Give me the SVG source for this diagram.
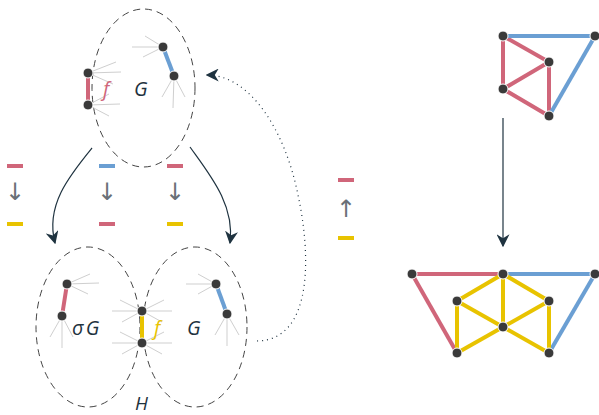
<svg xmlns="http://www.w3.org/2000/svg" width="599" height="415" viewBox="0 0 599 415">
<defs>
<style>
.ell{fill:none;stroke:#444;stroke-width:1;stroke-dasharray:7 5}
.nd{fill:#3a3a3a;stroke:#fff;stroke-width:1}
.sp{stroke:#cfcfcf;stroke-width:1;fill:none}
.r{stroke:#d0667a;stroke-width:4;stroke-linecap:butt}
.b{stroke:#6b9fd3;stroke-width:4}
.y{stroke:#e8c300;stroke-width:4}
.lbl{font-family:"Open Sans","DejaVu Sans",sans-serif;font-style:italic;font-size:20px;fill:#1f3340}
.dash{stroke-width:4}
.arr{font-family:"DejaVu Sans",sans-serif;font-size:24px;fill:#6a7077}
.con{fill:none;stroke:#1f3340;stroke-width:1.2}
</style>
<marker id="ah" viewBox="0 0 10 10" refX="9" refY="5" markerWidth="13" markerHeight="13" markerUnits="userSpaceOnUse" orient="auto">
<path d="M0,0 L10,5 L0,10 L3,5 z" fill="#1f3340"/>
</marker>
</defs>

<g id="connectors">
<path class="con" d="M92,148 C70,175 45,205 55,243" marker-end="url(#ah)"/>
<path class="con" d="M190,147 C210,175 235,205 230,243" marker-end="url(#ah)"/>
<path class="con" d="M257,341 C315,340 310,250 298,195 C285,130 250,75 207,75" stroke-dasharray="1 4" marker-end="url(#ah)"/>
<path class="con" d="M503,118 L503,246" marker-end="url(#ah)"/>
</g>

<g id="top-G">
<ellipse class="ell" cx="143.5" cy="88" rx="51.5" ry="79"/>
<path class="sp" d="M88,73 L121,72 M88,73 L116,62 M88,73 L113,84 M88,105 L120,104 M88,105 L109,94 M88,105 L109,116 M163,47 L132,47 M163,47 L145,36 M163,47 L143,57 M174,76 L162,97 M174,76 L173,108 M174,76 L185,97"/>
<line class="r" x1="88" y1="73" x2="88" y2="105"/>
<line class="b" x1="163" y1="47" x2="174" y2="76"/>
<circle class="nd" cx="88" cy="73" r="5"/>
<circle class="nd" cx="88" cy="105" r="5"/>
<circle class="nd" cx="163" cy="47" r="5"/>
<circle class="nd" cx="174" cy="76" r="5"/>
<text class="lbl" x="103" y="96" style="fill:#d0667a">f</text>
<text class="lbl" x="134" y="96">G</text>
</g>

<g id="H">
<ellipse class="ell" cx="88" cy="327" rx="52" ry="80"/>
<ellipse class="ell" cx="195" cy="327" rx="52" ry="80"/>
<path class="sp" d="M67,284 L99,283 M67,284 L90,274 M67,284 L88,294 M62,316 L50,337 M62,316 L62,348 M62,316 L73,337 M142,311 L112,311 M142,311 L120,300 M142,311 L122,322 M142,311 L172,311 M142,311 L164,300 M142,311 L162,322 M142,343 L112,343 M142,343 L120,332 M142,343 L122,354 M142,343 L172,343 M142,343 L164,332 M142,343 L162,354 M216,284 L186,284 M216,284 L198,274 M216,284 L198,294 M227,314 L215,335 M227,314 L227,346 M227,314 L239,335"/>
<line class="r" x1="67" y1="284" x2="62" y2="316"/>
<line class="y" x1="142" y1="311" x2="142" y2="343"/>
<line class="b" x1="216" y1="284" x2="227" y2="314"/>
<circle class="nd" cx="67" cy="284" r="5"/>
<circle class="nd" cx="62" cy="316" r="5"/>
<circle class="nd" cx="142" cy="311" r="5"/>
<circle class="nd" cx="142" cy="343" r="5"/>
<circle class="nd" cx="216" cy="284" r="5"/>
<circle class="nd" cx="227" cy="314" r="5"/>
<text class="lbl" x="72" y="335">σ<tspan dx="2">G</tspan></text>
<text class="lbl" x="154" y="335" style="fill:#e8c300">f</text>
<text class="lbl" x="187" y="335">G</text>
<text class="lbl" x="135" y="410" style="font-size:19px">H</text>
</g>

<g id="legend">
<line class="dash r" x1="7" y1="166" x2="23" y2="166"/>
<text class="arr" x="15" y="200" text-anchor="middle">↓</text>
<line class="dash y" x1="7" y1="224" x2="23" y2="224"/>
<line class="dash b" x1="99" y1="166" x2="115" y2="166"/>
<text class="arr" x="107" y="200" text-anchor="middle">↓</text>
<line class="dash r" x1="99" y1="224" x2="115" y2="224"/>
<line class="dash r" x1="167" y1="166" x2="183" y2="166"/>
<text class="arr" x="175" y="200" text-anchor="middle">↓</text>
<line class="dash y" x1="167" y1="224" x2="183" y2="224"/>
<line class="dash r" x1="338" y1="180" x2="354" y2="180"/>
<text class="arr" x="346" y="217" text-anchor="middle">↑</text>
<line class="dash y" x1="338" y1="238" x2="354" y2="238"/>
</g>

<g id="graph-top">
<line class="r" x1="503" y1="36" x2="503" y2="89"/>
<line class="r" x1="503" y1="36" x2="549" y2="62"/>
<line class="r" x1="549" y1="62" x2="503" y2="89"/>
<line class="r" x1="503" y1="89" x2="549" y2="116"/>
<line class="r" x1="549" y1="62" x2="549" y2="116"/>
<line class="b" x1="503" y1="36" x2="595" y2="36"/>
<line class="b" x1="595" y1="36" x2="549" y2="116"/>
<circle class="nd" cx="503" cy="36" r="5"/>
<circle class="nd" cx="595" cy="36" r="5"/>
<circle class="nd" cx="549" cy="62" r="5"/>
<circle class="nd" cx="503" cy="89" r="5"/>
<circle class="nd" cx="549" cy="116" r="5"/>
</g>

<g id="graph-bottom">
<line class="r" x1="412" y1="274" x2="503" y2="274"/>
<line class="r" x1="412" y1="274" x2="457" y2="353"/>
<line class="b" x1="503" y1="274" x2="595" y2="274"/>
<line class="b" x1="595" y1="274" x2="549" y2="353"/>
<line class="y" x1="503" y1="274" x2="457" y2="301"/>
<line class="y" x1="503" y1="274" x2="549" y2="301"/>
<line class="y" x1="503" y1="274" x2="503" y2="327"/>
<line class="y" x1="457" y1="301" x2="503" y2="327"/>
<line class="y" x1="549" y1="301" x2="503" y2="327"/>
<line class="y" x1="457" y1="301" x2="457" y2="353"/>
<line class="y" x1="549" y1="301" x2="549" y2="353"/>
<line class="y" x1="457" y1="353" x2="503" y2="327"/>
<line class="y" x1="549" y1="353" x2="503" y2="327"/>
<circle class="nd" cx="412" cy="274" r="5"/>
<circle class="nd" cx="503" cy="274" r="5"/>
<circle class="nd" cx="595" cy="274" r="5"/>
<circle class="nd" cx="457" cy="301" r="5"/>
<circle class="nd" cx="549" cy="301" r="5"/>
<circle class="nd" cx="503" cy="327" r="5"/>
<circle class="nd" cx="457" cy="353" r="5"/>
<circle class="nd" cx="549" cy="353" r="5"/>
</g>
</svg>
